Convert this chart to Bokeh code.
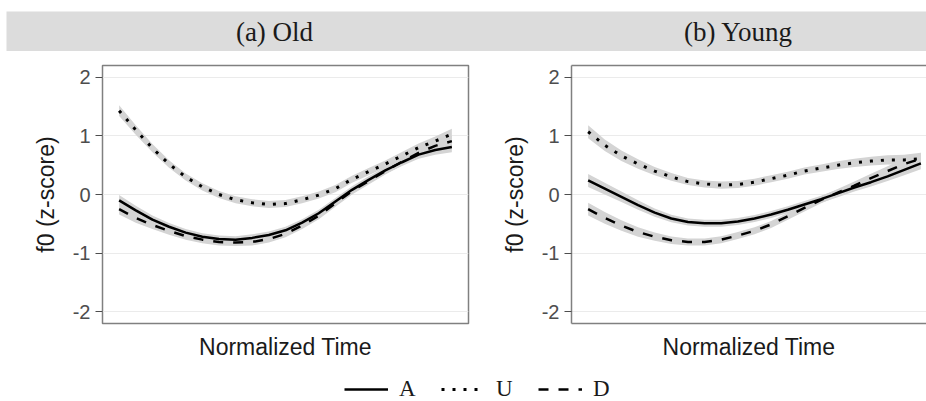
import numpy as np
from bokeh.plotting import figure
from bokeh.layouts import column, row
from bokeh.models import Range1d, FixedTicker, LinearAxis, Legend, LegendItem, Label
from bokeh.embed import file_html
from bokeh.resources import INLINE

# ---------------- data ----------------
t = [0.00, 0.05, 0.10, 0.15, 0.20, 0.25, 0.30, 0.35, 0.40, 0.45, 0.50,
     0.55, 0.60, 0.65, 0.70, 0.75, 0.80, 0.85, 0.90, 0.95, 1.00]

old_A = [-0.10, -0.27, -0.43, -0.55, -0.65, -0.72, -0.76, -0.77, -0.74, -0.69, -0.61,
         -0.48, -0.32, -0.12, 0.08, 0.25, 0.41, 0.55, 0.68, 0.76, 0.81]
old_U = [1.43, 1.10, 0.79, 0.52, 0.30, 0.13, 0.00, -0.09, -0.14, -0.17, -0.155,
         -0.09, -0.01, 0.10, 0.26, 0.39, 0.52, 0.66, 0.80, 0.91, 1.03]
old_D = [-0.25, -0.40, -0.52, -0.62, -0.71, -0.77, -0.81, -0.82, -0.81, -0.76, -0.67,
         -0.53, -0.36, -0.15, 0.06, 0.23, 0.40, 0.56, 0.71, 0.83, 0.91]
old_se = [0.09, 0.08, 0.07, 0.065, 0.06, 0.06, 0.06, 0.06, 0.06, 0.06, 0.06,
          0.06, 0.06, 0.06, 0.06, 0.06, 0.06, 0.065, 0.07, 0.08, 0.09]

young_A = [0.24, 0.10, -0.04, -0.18, -0.31, -0.41, -0.47, -0.49, -0.49, -0.46, -0.41,
           -0.34, -0.26, -0.17, -0.08, 0.02, 0.12, 0.21, 0.31, 0.42, 0.53]
young_U = [1.07, 0.84, 0.66, 0.52, 0.40, 0.30, 0.22, 0.18, 0.16, 0.17, 0.21,
           0.27, 0.33, 0.40, 0.45, 0.50, 0.54, 0.57, 0.59, 0.59, 0.61]
young_D = [-0.25, -0.40, -0.53, -0.64, -0.72, -0.78, -0.81, -0.81, -0.77, -0.70, -0.62,
           -0.51, -0.37, -0.23, -0.09, 0.03, 0.15, 0.28, 0.40, 0.52, 0.61]
young_se = [0.11, 0.10, 0.09, 0.08, 0.07, 0.065, 0.06, 0.06, 0.06, 0.06, 0.06,
            0.06, 0.06, 0.06, 0.06, 0.065, 0.07, 0.075, 0.08, 0.09, 0.10]

y_ticks = [-2, -1, 0, 1, 2]
y_tick_labels = ["-2", "-1", "0", "1", "2"]
groups = ["A", "U", "D"]
panel_titles = ["(a) Old", "(b) Young"]

# ---------------- styles ----------------
SANS = "Liberation Sans"
SERIF = "Liberation Serif"
BORDER = "#808080"
RIBBON = "#d4d4d4"
styles = {
    "A": dict(line_width=2.5, line_dash="solid"),
    "U": dict(line_width=3, line_dash="3 8"),
    "D": dict(line_width=2.5, line_dash="10 10"),
}

FRAME_W = 366
FRAME_H = 258
ROW_H = 317


def make_panel(series, se, width, b_left, b_right, frame_w, full_border):
    x_end = -0.05 + 1.1 * frame_w / FRAME_W
    p = figure(width=width, height=ROW_H, output_backend="svg", toolbar_location=None,
               x_range=Range1d(-0.05, x_end), y_range=Range1d(-2.2, 2.2),
               min_border_left=b_left, min_border_right=b_right,
               min_border_top=14, min_border_bottom=ROW_H - 14 - FRAME_H,
               x_axis_location=None, y_axis_location=None)
    p.xgrid.visible = False
    p.ygrid.ticker = FixedTicker(ticks=y_ticks)
    p.ygrid.grid_line_color = "#ebebeb"
    p.ygrid.grid_line_width = 1

    yax = LinearAxis(ticker=FixedTicker(ticks=y_ticks),
                     major_label_overrides=dict(zip(y_ticks, y_tick_labels)),
                     axis_label="f0 (z-score)")
    yax.major_label_text_font = SANS
    yax.major_label_text_font_size = "20px"
    yax.major_label_text_color = "#4d4d4d"
    yax.major_label_standoff = 5
    yax.major_tick_out = 7
    yax.major_tick_in = 0
    yax.major_tick_line_color = "#4d4d4d"
    yax.minor_tick_line_color = None
    yax.axis_label_text_font = SANS
    yax.axis_label_text_font_size = "23px"
    yax.axis_label_text_font_style = "normal"
    yax.axis_label_text_color = "#1a1a1a"
    yax.axis_label_standoff = 11
    p.add_layout(yax, "left")

    xax = LinearAxis(ticker=FixedTicker(ticks=[]), axis_label="Normalized Time")
    xax.major_label_text_font_size = "0px"
    xax.major_tick_line_color = None
    xax.minor_tick_line_color = None
    xax.axis_label_text_font = SANS
    xax.axis_label_text_font_size = "23px"
    xax.axis_label_text_font_style = "normal"
    xax.axis_label_text_color = "#1a1a1a"
    xax.axis_label_standoff = 10
    p.add_layout(xax, "below")

    if full_border:
        p.outline_line_color = BORDER
        p.outline_line_width = 1.5
        yax.axis_line_color = None
        xax.axis_line_color = None
    else:
        p.outline_line_color = None
        yax.axis_line_color = BORDER
        yax.axis_line_width = 1.5
        xax.axis_line_color = BORDER
        xax.axis_line_width = 1.5
        top = LinearAxis(ticker=FixedTicker(ticks=[]))
        top.major_label_text_font_size = "0px"
        top.major_tick_line_color = None
        top.minor_tick_line_color = None
        top.axis_line_color = BORDER
        top.axis_line_width = 1.5
        p.add_layout(top, "above")

    tt = np.array(t)
    s = np.array(se)
    for g in groups:
        yv = np.array(series[g])
        p.varea(x=tt, y1=yv - s, y2=yv + s, fill_color=RIBBON, fill_alpha=1.0)
    for g in groups:
        p.line(x=t, y=series[g], line_color="black", **styles[g])
    return p


left = make_panel({"A": old_A, "U": old_U, "D": old_D}, old_se,
                  width=488, b_left=102, b_right=20, frame_w=366, full_border=True)
right = make_panel({"A": young_A, "U": young_U, "D": young_D}, young_se,
                   width=438, b_left=83, b_right=0, frame_w=355, full_border=False)

# ---------------- strip with captions ----------------
strip = figure(width=926, height=51, output_backend="svg", toolbar_location=None,
               x_range=Range1d(0, 1), y_range=Range1d(0, 1),
               min_border_left=6, min_border_right=0, min_border_top=11, min_border_bottom=0,
               x_axis_location=None, y_axis_location=None)
strip.grid.visible = False
strip.outline_line_color = None
strip.background_fill_color = "#dcdcdc"
for txt, cx in zip(panel_titles, [268, 732]):
    strip.add_layout(Label(x=cx, y=20, x_units="screen", y_units="screen", text=txt,
                           text_align="center", text_baseline="middle",
                           text_font=SERIF, text_font_size="27px", text_color="#1a1a1a"))

# ---------------- legend ----------------
# legend keys use the old-panel series, drawn outside this strip's y range so only keys show
leg = figure(width=926, height=33, output_backend="svg", toolbar_location=None,
             x_range=Range1d(0, 1), y_range=Range1d(10, 11),
             min_border_left=0, min_border_right=0, min_border_top=0, min_border_bottom=0,
             x_axis_location=None, y_axis_location=None)
leg.grid.visible = False
leg.outline_line_color = None
items = []
for g, ys in zip(groups, [old_A, old_U, old_D]):
    r = leg.line(x=t, y=ys, line_color="black", **styles[g])
    items.append(LegendItem(label=g, renderers=[r]))
legend = Legend(items=items, orientation="horizontal", location=(338, -1),
                glyph_width=44, glyph_height=22, label_standoff=11, spacing=22,
                padding=0, margin=0, border_line_color=None, background_fill_alpha=0,
                label_text_font=SERIF, label_text_font_size="23px", label_text_color="#1a1a1a")
leg.add_layout(legend, "center")

layout = column(strip, row(left, right), leg)
open("out.html", "w").write(file_html(layout, INLINE))
